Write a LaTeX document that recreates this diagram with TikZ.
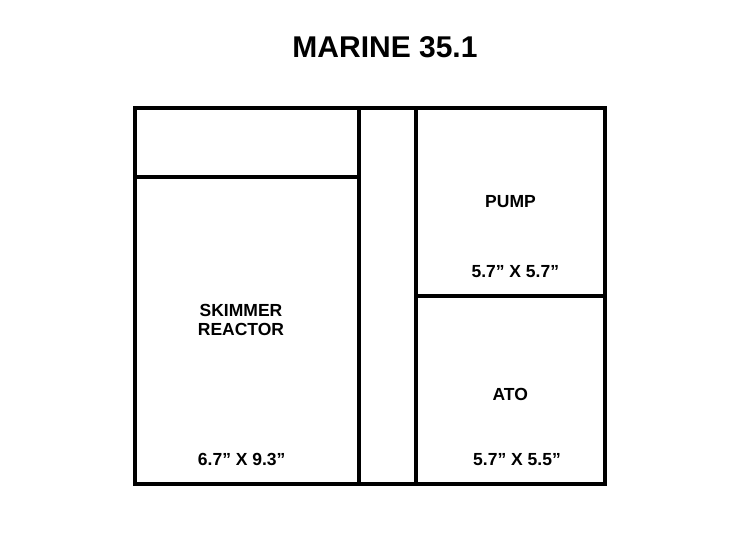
\documentclass[tikz,border=0pt]{standalone}
\usepackage{fontspec}
\setmainfont{Liberation Sans}
\usepackage{tikz}
\usetikzlibrary{calc,positioning}

\begin{document}
\begin{tikzpicture}[
  x=1pt, y=-1pt,
  mywall/.style={
    draw,
    line width=4pt
    },
  mylabel/.style={
    inner sep=0pt,
    anchor=base,
    font=\bfseries\fontsize{17.5}{18.3}\selectfont,
    align=center
    },
  mytitle/.style={
    inner sep=0pt,
    anchor=base,
    font=\bfseries\fontsize{30}{32}\selectfont
    }
]
\useasboundingbox (0,0) rectangle (750,546);

\node [mytitle] (title) at (385,57.5) {MARINE 35.1};

% sump walls
\draw [mywall] (134.7,108.3) rectangle (604.5,483.5);
\coordinate (c1) at (359.3,108.3);
\coordinate (c2) at (415.5,108.3);
\draw [mywall] (c1) -- (c1 |- 0,483.5);
\draw [mywall] (c2) -- (c2 |- 0,483.5);
\draw [mywall] (134.7,177.3) -- (c1 |- 0,177.3);
\draw [mywall] (c2 |- 0,296) -- (604.5,296);

% chambers
\node [mylabel] (skimmer) at (241,335) {SKIMMER\\REACTOR};
\node [mylabel] (skimmersize) at (241.7,465.7) {6.7” X 9.3”};
\node [mylabel] (pump) at (510.5,207.3) {PUMP};
\node [mylabel] (pumpsize) at (515.3,277.5) {5.7” X 5.7”};
\node [mylabel] (ato) at (510.3,400) {ATO};
\node [mylabel] (atosize) at (517,465.7) {5.7” X 5.5”};

\end{tikzpicture}
\end{document}
